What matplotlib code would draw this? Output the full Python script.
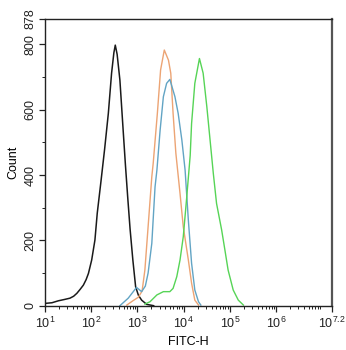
import numpy as np
import matplotlib
matplotlib.use('Agg')
import matplotlib.pyplot as plt
from matplotlib.ticker import FixedLocator, NullFormatter

plt.rcParams['font.family'] = ['Liberation Sans', 'DejaVu Sans']
plt.rcParams['mathtext.fontset'] = 'custom'
plt.rcParams['mathtext.rm'] = 'Liberation Sans'
plt.rcParams['mathtext.it'] = 'Liberation Sans'

# histogram outlines: log10(FITC-H) and event counts
black_log = [1.00, 1.15, 1.29, 1.42, 1.54, 1.62, 1.69, 1.76, 1.83, 1.89, 1.94, 2.01, 2.08,
             2.13, 2.21, 2.29, 2.37, 2.44, 2.49, 2.52, 2.56, 2.62, 2.69, 2.74, 2.79,
             2.84, 2.90, 2.96, 3.02, 3.09, 3.20, 3.35]
black_cnt = [7, 9, 15, 19, 23, 29, 38, 50, 63, 80, 99, 140, 201,
             283, 380, 480, 589, 712, 775, 798, 770, 691, 538, 430, 330,
             235, 140, 58, 32, 17, 4, 0]

orange_log = [2.77, 2.90, 3.02, 3.10, 3.16, 3.23, 3.31, 3.34, 3.43, 3.50, 3.58, 3.67, 3.72,
              3.77, 3.83, 3.92, 3.99, 4.10, 4.17, 4.24, 4.32]
orange_cnt = [2, 15, 26, 45, 109, 242, 395, 436, 589, 722, 783, 752, 712,
              589, 467, 344, 242, 140, 69, 17, 2]

blue_log = [2.62, 2.80, 2.98, 3.09, 3.17, 3.23, 3.31, 3.38, 3.42, 3.49, 3.56, 3.63, 3.70,
            3.81, 3.88, 3.96, 4.03, 4.10, 4.17, 4.24, 4.32, 4.37]
blue_cnt = [0, 23, 56, 43, 60, 100, 191, 364, 415, 538, 640, 681, 693,
            640, 589, 507, 415, 262, 130, 48, 12, 2]

green_log = [3.16, 3.27, 3.42, 3.56, 3.70, 3.77, 3.85, 3.92, 3.99, 4.06, 4.14, 4.17, 4.24, 4.34,
             4.42, 4.50, 4.57, 4.64, 4.71, 4.82, 4.89, 4.96, 5.07, 5.18, 5.29]
green_cnt = [5, 12, 33, 43, 43, 53, 89, 140, 211, 324, 460, 558, 681, 757,
             712, 609, 507, 405, 313, 232, 171, 109, 48, 17, 2]

x_ticks = [1, 2, 3, 4, 5, 6, 7.2]
x_labels = ['10$^{1}$', '10$^{2}$', '10$^{3}$', '10$^{4}$', '10$^{5}$', '10$^{6}$', '10$^{7.2}$']
y_ticks = [0, 200, 400, 600, 800, 878]

fig = plt.figure(figsize=(3.46, 3.5), dpi=100)
ax = fig.add_axes([0.130, 0.1266, 0.8287, 0.8191])

ax.plot(10 ** np.array(black_log), black_cnt, color='#1a1a1a', lw=1.1)
ax.plot(10 ** np.array(orange_log), orange_cnt, color='#eca474', lw=1.0)
ax.plot(10 ** np.array(blue_log), blue_cnt, color='#62a4c4', lw=1.0)
ax.plot(10 ** np.array(green_log), green_cnt, color='#56d456', lw=1.0)

ax.set_xscale('log')
ax.set_xlim(10, 10 ** 7.2)
ax.set_ylim(0, 878)

ax.set_xticks([10 ** v for v in x_ticks])
ax.set_xticklabels(x_labels)
minor = [m * 10 ** d for d in range(1, 7) for m in range(2, 10)]
ax.xaxis.set_minor_locator(FixedLocator(minor))
ax.xaxis.set_minor_formatter(NullFormatter())

ax.set_yticks(y_ticks)
ax.set_yticklabels([str(v) for v in y_ticks], rotation=90, va='center')
ax.yaxis.set_minor_locator(FixedLocator([100, 300, 500, 700]))

ax.tick_params(axis='both', which='major', labelsize=9, length=4, width=0.9, colors='#222222')
ax.tick_params(axis='both', which='minor', length=2, width=0.7, colors='#222222')
ax.tick_params(axis='x', pad=3)
ax.tick_params(axis='y', pad=2)

for side in ['left', 'bottom', 'top']:
    ax.spines[side].set_linewidth(1.0)
    ax.spines[side].set_color('#222222')
ax.spines['right'].set_linewidth(1.6)
ax.spines['right'].set_color('#555555')

ax.set_xlabel('FITC-H', fontsize=9, labelpad=4)
ax.set_ylabel('Count', fontsize=9, labelpad=4)

fig.savefig('out.png', dpi=100)
